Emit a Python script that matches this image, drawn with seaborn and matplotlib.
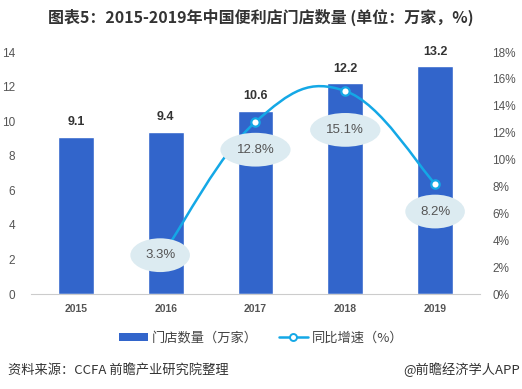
import matplotlib
matplotlib.use("Agg")
import matplotlib.pyplot as plt
import numpy as np
import pandas as pd
import seaborn as sns
from matplotlib.lines import Line2D
from matplotlib.patches import Patch, PathPatch
from matplotlib.path import Path

# données
years = ["2015", "2016", "2017", "2018", "2019"]
stores = [9.1, 9.4, 10.6, 12.2, 13.2]  # 万家
growth = [None, 3.3, 12.8, 15.1, 8.2]  # %
left_ticks = [0, 2, 4, 6, 8, 10, 12, 14]
right_ticks = [0, 2, 4, 6, 8, 10, 12, 14, 16, 18]

BAR_COLOR = "#3265CB"
LINE_COLOR = "#14A8E6"
LABEL_BG = "#DCEBF1"
GREY = "#555555"
LATIN = ["Liberation Sans", "DejaVu Sans"]

sns.set_theme(style="white")
plt.rcParams["font.family"] = ["Noto Sans CJK SC", "DejaVu Sans"]
plt.rcParams["axes.unicode_minus"] = False


def smooth_path(xs, ys, k=0.2):
    """Courbe lissée (Bezier type Catmull-Rom) passant par les points."""
    pts = np.column_stack([xs, ys]).astype(float)
    verts = [pts[0]]
    codes = [Path.MOVETO]
    n = len(pts)
    for i in range(n - 1):
        p0 = pts[max(i - 1, 0)]
        p1 = pts[i]
        p2 = pts[i + 1]
        p3 = pts[min(i + 2, n - 1)]
        verts += [p1 + (p2 - p0) * k, p2 - (p3 - p1) * k, p2]
        codes += [Path.CURVE4] * 3
    return Path(verts, codes)


df = pd.DataFrame({"year": years, "stores": stores})

fig = plt.figure(figsize=(5.22, 3.89), dpi=100)
ax = fig.add_axes([0.0594, 0.2442, 0.8601, 0.6221])

sns.barplot(data=df, x="year", y="stores", color=BAR_COLOR, width=0.4,
            saturation=1, ax=ax)
ax.set_ylim(0, 14)
ax.set_xlim(-0.5, 4.5)
ax.set_yticks(left_ticks)
ax.set_xlabel("")
ax.set_ylabel("")
for s in ["top", "left", "right"]:
    ax.spines[s].set_visible(False)
ax.spines["bottom"].set_color("#CCCCCC")
ax.spines["bottom"].set_linewidth(0.8)
ax.tick_params(axis="y", length=0, pad=11.5, labelsize=8.5, labelcolor=GREY)
ax.tick_params(axis="x", length=0, pad=7, labelsize=7.5, labelcolor=GREY)
for lbl in ax.get_xticklabels():
    lbl.set_fontweight("bold")
    lbl.set_fontfamily(LATIN)
for lbl in ax.get_yticklabels():
    lbl.set_fontfamily(LATIN)

# valeurs au-dessus des barres
for i, v in enumerate(stores):
    ax.annotate(f"{v}", (i, v), xytext=(0, 6), textcoords="offset points",
                ha="center", va="bottom", fontsize=9, fontweight="bold",
                color="#333333", family=LATIN)

# axe de droite : croissance
ax2 = ax.twinx()
ax2.set_ylim(0, 18)
ax2.set_yticks(right_ticks)
ax2.set_yticklabels([f"{t}%" for t in right_ticks])
ax2.tick_params(axis="y", length=0, pad=9, labelsize=8.5, labelcolor=GREY)
for lbl in ax2.get_yticklabels():
    lbl.set_fontfamily(LATIN)
for s in ax2.spines.values():
    s.set_visible(False)
ax2.grid(False)
ax.grid(False)

gx = [i for i, g in enumerate(growth) if g is not None]
gy = [g for g in growth if g is not None]
ax2.add_patch(PathPatch(smooth_path(gx, gy), fc="none", ec=LINE_COLOR,
                        lw=1.8, zorder=3))
ax2.plot(gx, gy, ls="none", marker="o", ms=6, mfc="white", mec=LINE_COLOR,
         mew=1.6, zorder=4)

# étiquettes en ellipse (décalages en points)
label_offsets = [(-4, -4), (0, -20), (0, -28), (0, -20)]
for (x, y), (dx, dy) in zip(zip(gx, gy), label_offsets):
    ax2.annotate(f"{y}%", (x, y), xytext=(dx, dy), textcoords="offset points",
                 ha="center", va="center", fontsize=9.5, color=GREY,
                 family=LATIN, zorder=5,
                 bbox=dict(boxstyle="ellipse,pad=0.45", fc=LABEL_BG, ec="none"))

# titre
fig.text(0.5, 0.955, "图表5：2015-2019年中国便利店门店数量 (单位：万家，%)",
         ha="center", va="center", fontsize=11.5, fontweight="bold",
         color="#333333")

# légende
handles = [
    Patch(facecolor=BAR_COLOR, edgecolor="none"),
    Line2D([], [], color=LINE_COLOR, lw=1.8, marker="o", ms=5, mfc="white",
           mec=LINE_COLOR, mew=1.4),
]
fig.legend(handles, ["门店数量（万家）", "同比增速（%）"], loc="center",
           bbox_to_anchor=(0.5, 0.131), ncol=2, frameon=False, fontsize=9.5,
           handlelength=2.2, handleheight=0.6, columnspacing=1.6,
           handletextpad=0.3, labelcolor="#444444")

# sources
fig.text(0.015, 0.049, "资料来源：CCFA 前瞻产业研究院整理", ha="left",
         va="center", fontsize=9.5, color="#333333")
fig.text(0.996, 0.049, "@前瞻经济学人APP", ha="right", va="center",
         fontsize=9.5, color="#333333")

fig.savefig("out.png", dpi=100)
plt.close(fig)
